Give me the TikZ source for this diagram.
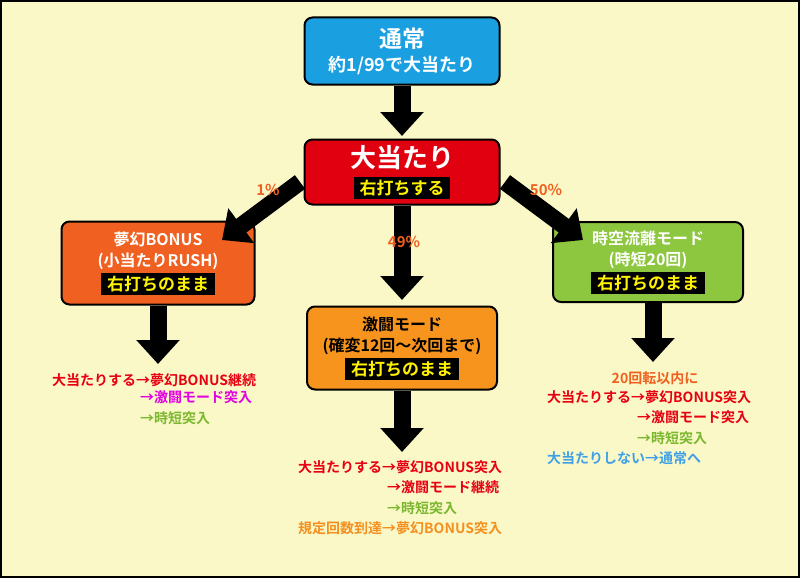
\documentclass[tikz,border=0pt]{standalone}
\usepackage{fontspec}
\setmainfont{Noto Sans CJK JP}[BoldFont={Noto Sans CJK JP Bold}]
\usetikzlibrary{arrows.meta}
\definecolor{bg}{HTML}{FBF8C8}
\definecolor{cblue}{HTML}{1AA0E0}
\definecolor{cred}{HTML}{E00010}
\definecolor{corg}{HTML}{F06020}
\definecolor{corg2}{HTML}{F7941D}
\definecolor{cgrn}{HTML}{8DC63F}
\definecolor{tred}{HTML}{E60012}
\definecolor{tmag}{HTML}{E000E0}
\definecolor{tgrn}{HTML}{7CB82F}
\definecolor{torg}{HTML}{F39020}
\definecolor{tblu}{HTML}{3FA0E8}
\definecolor{tyel}{HTML}{FFF200}
\newcommand{\band}[1]{\colorbox{black}{\textcolor{tyel}{\fontsize{17}{20}\selectfont\bfseries\,#1\,}}}
\begin{document}
\begin{tikzpicture}[x=1pt,y=-1pt,
 box/.style={draw=black,line width=2pt,rounded corners=8pt,align=center,text=white,font=\bfseries\fontsize{16}{21}\selectfont,inner sep=2pt},
 big/.style={line width=17pt,-{Triangle[width=42pt,length=24pt]}},
 pct/.style={text=corg,font=\bfseries\fontsize{15}{17}\selectfont},
 note/.style={font=\bfseries\fontsize{14}{16}\selectfont,anchor=west,inner sep=0pt}]
\path[fill=bg,draw=black,line width=1.5pt] (1,1) rectangle (799,577);
\useasboundingbox (0,0) rectangle (800,578);
\node[box,fill=cblue,minimum width=195pt,minimum height=67pt,font=\bfseries\fontsize{18}{24}\selectfont] (n) at (402,51) {{\fontsize{23}{26}\selectfont 通常}\\約1/99で大当たり};
\node[box,fill=cred,minimum width=195pt,minimum height=65pt,font=\bfseries\fontsize{17}{27}\selectfont] (o) at (402,172) {{\fontsize{26}{27}\selectfont 大当たり}\\\band{右打ちする}};
\node[box,fill=corg,minimum width=193pt,minimum height=83pt] (m) at (158,263) {夢幻BONUS\\(小当たりRUSH)\\[3pt]\band{右打ちのまま}};
\node[box,fill=corg2,text=black,minimum width=190pt,minimum height=83pt] (g) at (402,348) {激闘モード\\(確変12回〜次回まで)\\[3pt]\band{右打ちのまま}};
\node[box,fill=cgrn,minimum width=190pt,minimum height=80pt] (j) at (648,262) {時空流離モード\\(時短20回)\\[3pt]\band{右打ちのまま}};
\coordinate (a1) at (402,136);
\coordinate (a2) at (402,300);
\coordinate (a3) at (222,240);
\coordinate (a4) at (583,240);
\coordinate (a5) at (158,364);
\coordinate (a6) at (402,452);
\coordinate (a7) at (653,362);
\coordinate (s3) at (300,182);
\coordinate (s4) at (505,182);
\draw[big] (n.south) -- (a1);
\draw[big] (o.south) -- (a2);
\draw[big] (s3) -- (a3);
\draw[big] (s4) -- (a4);
\draw[big] (m.south -| a5) -- (a5);
\draw[big] (g.south) -- (a6);
\draw[big] (j.south -| a7) -- (a7);
\node[pct] (p1) at (268,190) {1\%};
\node[pct] (p2) at (404,242) {49\%};
\node[pct] (p3) at (546,190) {50\%};
% left notes
\node[note,text=tred] (l1) at (52,380) {大当たりする→夢幻BONUS継続};
\node[note,text=tmag] (l2) at (140,397) {→激闘モード突入};
\node[note,text=tgrn] (l3) at (140,418) {→時短突入};
% middle
\node[note,text=tred] (c1) at (298,467) {大当たりする→夢幻BONUS突入};
\node[note,text=tred] (c2) at (387,487) {→激闘モード継続};
\node[note,text=tgrn] (c3) at (387,508) {→時短突入};
\node[note,text=torg] (c4) at (298,528) {規定回数到達→夢幻BONUS突入};
% right
\node[note,text=corg,anchor=center] (r0) at (655,378) {20回転以内に};
\node[note,text=tred] (r1) at (547,397) {大当たりする→夢幻BONUS突入};
\node[note,text=tred] (r2) at (637,417) {→激闘モード突入};
\node[note,text=tgrn] (r3) at (637,438) {→時短突入};
\node[note,text=tblu] (r4) at (547,458) {大当たりしない→通常へ};
\end{tikzpicture}
\end{document}
